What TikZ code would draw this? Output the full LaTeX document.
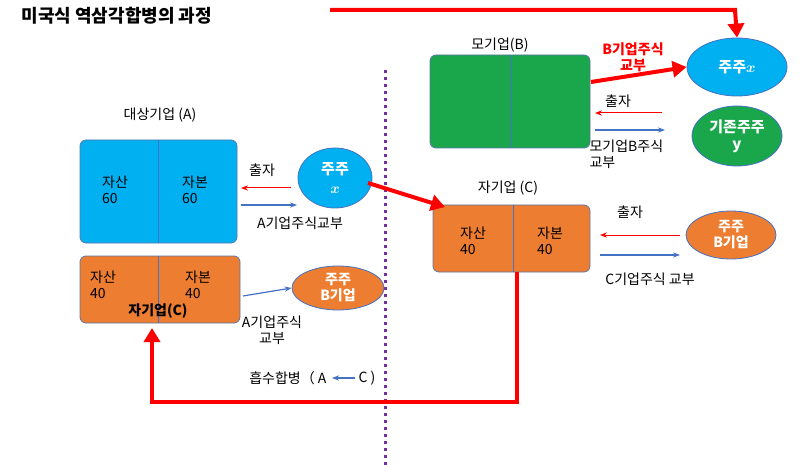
\documentclass[tikz,border=0pt]{standalone}
\usepackage{amsmath}
\usepackage{bm}
\usepackage{fontspec}
\setmainfont{Noto Sans CJK KR}
\usetikzlibrary{arrows.meta}
\definecolor{skyb}{HTML}{00B0F0}
\definecolor{grnb}{HTML}{1AA64A}
\definecolor{orgb}{HTML}{ED7D31}
\definecolor{linb}{HTML}{4472C4}
\definecolor{purd}{HTML}{7030A0}
\tikzset{
  box/.style={draw=linb!60!gray, line width=0.8pt, rounded corners=6pt},
  owner/.style={ellipse, draw=linb, line width=0.8pt, text=white, font=\bfseries, align=center, inner sep=0pt},
  lbl/.style={font=\fontsize{14}{16}\selectfont, align=center},
  big/.style={red, line width=4pt, -{Triangle[length=14pt,width=16pt]}},
  thinr/.style={red, line width=1pt, -{Stealth[length=7pt]}},
  thinb/.style={linb, line width=1.2pt, -{Stealth[length=7pt]}}
}
\usetikzlibrary{shapes.geometric}
\begin{document}
\begin{tikzpicture}[x=1pt,y=-1pt]
    \useasboundingbox (0,0) rectangle (800,465);
    % Title
    \node[lbl, anchor=west, font=\fontsize{18}{20}\selectfont\bfseries] (title) at (18,16) {미국식 역삼각합병의 과정};
    % Divider
    \draw[purd, line width=3pt, dash pattern=on 3pt off 4pt] (385,70) -- (385,465);
    % Parent company B
    \draw[box, fill=grnb] (430,55) rectangle (590,148);
    \draw[linb, line width=1pt] (510,55) -- (510,148);
    \node[lbl] (bname) at (500,45) {모기업(B)};
    \node[owner, fill=skyb, minimum width=100pt, minimum height=58pt, font=\fontsize{15}{17}\selectfont\bfseries] (shx) at (737,67) {주주$\bm{x}$};
    \node[owner, fill=grnb, minimum width=90pt, minimum height=60pt, font=\fontsize{15}{17}\selectfont\bfseries] (shy) at (737,136) {기존주주\\y};
    \node[lbl, red, font=\fontsize{14}{16}\selectfont\bfseries] (bgive) at (633,57) {B기업주식\\교부};
    \draw[big] (591,82) -- (shx.west);
    \node[lbl] (binv) at (618,101) {출자};
    \draw[thinr] (662,113) -- (595,113);
    \draw[thinb] (595,130) -- (665,130);
    \node[lbl, anchor=north west, align=left] (bpay) at (586,136) {모기업B주식\\교부};
    % Target A
    \node[lbl] (aname) at (160,115) {대상기업 (A)};
    \draw[box, fill=skyb] (80,140) rectangle (237,243);
    \draw[linb, line width=1pt] (158,140) -- (158,243);
    \node[lbl, align=left] (aasset) at (115,190) {자산\\60};
    \node[lbl, align=left] (acap) at (195,190) {자본\\60};
    \node[owner, fill=skyb, minimum width=74pt, minimum height=60pt, font=\fontsize{15}{19}\selectfont\bfseries] (ashx) at (335,178) {주주\\$\bm{x}$};
    \node[lbl] (ainv) at (262,170) {출자};
    \draw[thinr] (291,188) -- (241,188);
    \draw[thinb] (241,205) -- (297,205);
    \node[lbl] (apay) at (300,223) {A기업주식교부};
    % Subsidiary C
    \node[lbl] (cname) at (508,188) {자기업 (C)};
    \draw[box, fill=orgb] (433,205) rectangle (590,272);
    \draw[linb, line width=1pt] (513,205) -- (513,272);
    \node[lbl, align=left] (casset) at (473,241) {자산\\40};
    \node[lbl, align=left] (ccap) at (550,241) {자본\\40};
    \coordinate (ctop) at (445,207);
    \coordinate (xout) at (368,183);
    \draw[big] (xout) -- (ctop);
    \node[lbl] (cinv) at (630,212) {출자};
    \draw[thinr] (680,235) -- (600,235);
    \draw[thinb] (600,255) -- (680,255);
    \node[lbl] (cpay) at (650,279) {C기업주식 교부};
    \node[owner, fill=orgb, minimum width=90pt, minimum height=48pt, font=\fontsize{14}{16}\selectfont\bfseries] (cshb) at (731,235) {주주\\B기업};
    % Merged C
    \draw[box, fill=orgb] (80,256) rectangle (240,323);
    \draw[linb, line width=1pt] (158,256) -- (158,323);
    \node[lbl, align=left] (masset) at (103,285) {자산\\40};
    \node[lbl, align=left] (mcap) at (198,285) {자본\\40};
    \node[lbl, font=\fontsize{14}{16}\selectfont\bfseries] (mname) at (158,311) {자기업(C)};
    \node[owner, fill=orgb, minimum width=92pt, minimum height=44pt, font=\fontsize{14}{16}\selectfont\bfseries] (mshb) at (338,288) {주주\\B기업};
    \draw[thinb] (243,296) -- (mshb.west);
    \node[lbl] (mpay) at (272,330) {A기업주식\\교부};
    % Merger path
    \coordinate (mbot) at (152,328);
    \draw[red, line width=4pt, -{Triangle[length=14pt,width=16pt]}] (517,272) -- (517,402) -- (152,402) -- (mbot);
    \node[lbl, anchor=east] (merge) at (330,378) {흡수합병（ A};
    \node[lbl, anchor=west] (mergec) at (355,378) {C )};
    \draw[thinb] (mergec.west) -- (332,378);
    % Top arrow
    \coordinate (tstart) at (330,10);
    \draw[red, line width=4pt, -{Triangle[length=14pt,width=16pt]}] (tstart) -- (735,10) -- (shx.north);
\end{tikzpicture}
\end{document}
